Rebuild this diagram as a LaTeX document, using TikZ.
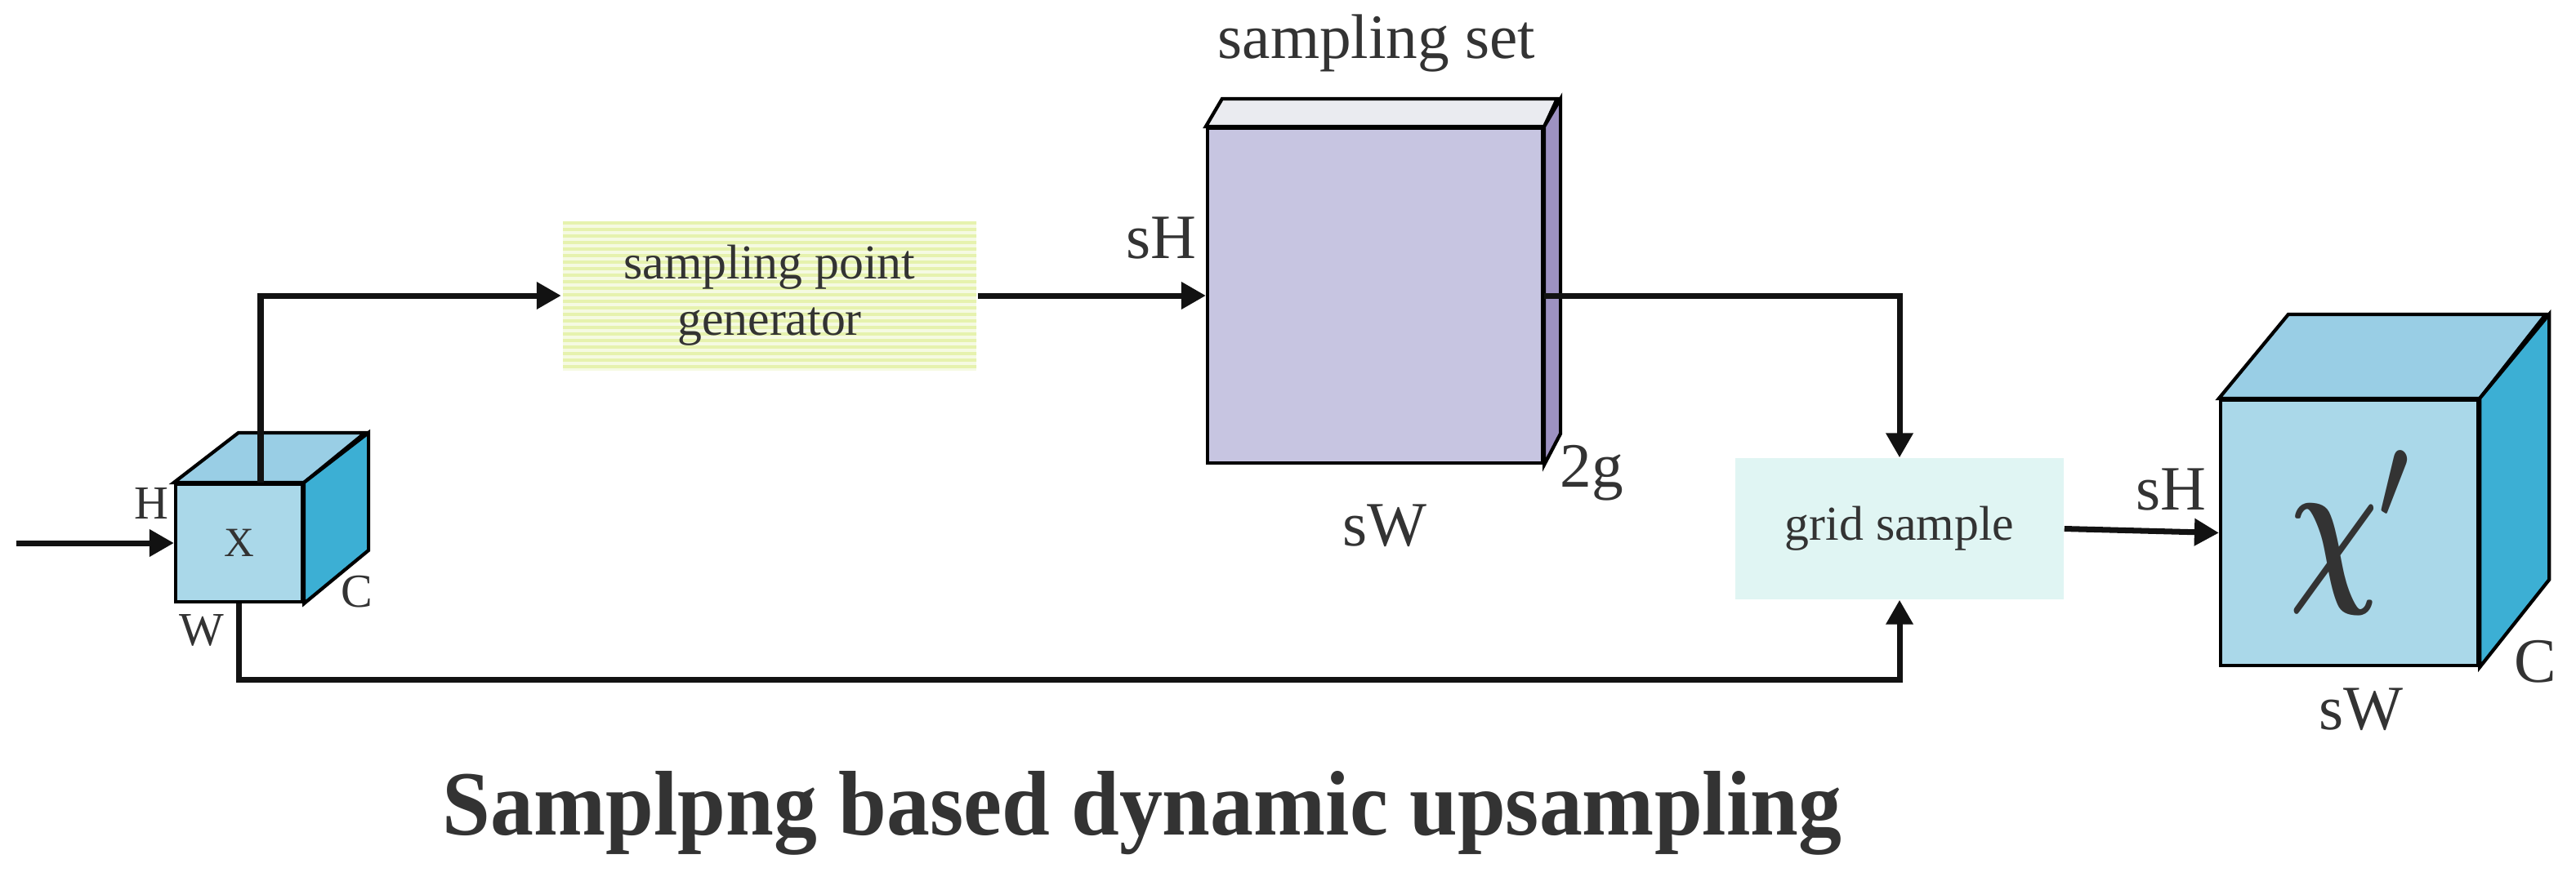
\RequirePackage{fix-cm}
\documentclass[tikz,border=0pt]{standalone}
\usepackage{fontspec}
\setmainfont{Liberation Serif}
\usepackage{tikz}
\usetikzlibrary{arrows.meta, positioning, patterns.meta}

\definecolor{txt}{HTML}{333333}
\definecolor{cubefront}{HTML}{AAD8E9}
\definecolor{cubetop}{HTML}{99CEE5}
\definecolor{cubeside}{HTML}{3CAFD4}
\definecolor{setfront}{HTML}{C7C5E1}
\definecolor{settop}{HTML}{EAEBF0}
\definecolor{setside}{HTML}{9D91C2}
\definecolor{gridfill}{HTML}{E0F5F3}
\definecolor{stripe}{HTML}{E6F2AE}
\definecolor{stripebg}{HTML}{F5FAE2}

\begin{document}
\begin{tikzpicture}[
    face/.style={rectangle, draw=black, line width=1.2pt, inner sep=0pt, text=txt},
    edge/.style={draw=black, line width=1.2pt},
    block/.style={rectangle, inner sep=0pt, align=center, text=txt, font=\fontsize{17}{19.7}\selectfont},
    lbl/.style={anchor=base, inner sep=0pt, text=txt, font=\fontsize{22}{26}\selectfont},
    smalllbl/.style={anchor=base, inner sep=0pt, text=txt, font=\fontsize{16.5}{20}\selectfont},
    arrow/.style={-{Triangle[length=0.3cm, width=0.32cm]}, line width=2pt, black!93}
  ]
  \useasboundingbox (0,0) rectangle (31.53,-10.73);

  % input feature X
  \node[face, fill=cubefront, minimum width=1.55cm, minimum height=1.44cm, font=\fontsize{14.5}{17}\selectfont] (x) at (2.925,-6.65) {X};
  \draw[edge, fill=cubetop] (x.north west) -- ++(0.79,0.61) -- ++(1.55,0) -- (x.north east) -- cycle;
  \draw[edge, fill=cubeside] (x.north east) -- ++(0.79,0.61) -- ++(0,-1.44) -- (x.south east) -- cycle;
  \node[smalllbl] (xh) at (1.85,-6.35) {H};
  \node[smalllbl] (xw) at (2.47,-7.90) {W};
  \node[smalllbl] (xc) at (4.37,-7.43) {C};
  \coordinate (in) at (0.20,-6.65);

  % sampling point generator
  \node[block, minimum width=5.06cm, minimum height=1.83cm, preaction={fill=stripebg},
        pattern={Lines[angle=0, distance=0.08cm, line width=0.045cm]}, pattern color=stripe] (gen) at (9.42,-3.62) {sampling point\\generator};

  % sampling set
  \node[face, fill=setfront, minimum width=4.10cm, minimum height=4.10cm] (set) at (16.83,-3.62) {};
  \draw[edge, fill=settop] (set.north west) -- ++(0.20,0.34) -- ++(4.10,0) -- (set.north east) -- cycle;
  \draw[edge, fill=setside] (set.north east) -- ++(0.20,0.34) -- ++(0,-4.10) -- (set.south east) -- cycle;
  \node[lbl] (setname) at (16.85,-0.71) {sampling set};
  \node[lbl] (seth) at (14.21,-3.16) {sH};
  \node[lbl] (setw) at (16.95,-6.68) {sW};
  \node[lbl] (setg) at (19.48,-5.96) {2g};

  % grid sample
  \node[block, fill=gridfill, minimum width=4.02cm, minimum height=1.73cm] (grid) at (23.25,-6.475) {grid sample};

  % output feature
  \node[face, fill=cubefront, minimum width=3.15cm, minimum height=3.25cm] (out) at (28.755,-6.525) {\scalebox{0.72}[1]{\fontsize{60}{60}\selectfont\boldmath$\chi'$}};
  \draw[edge, fill=cubetop] (out.north west) -- ++(0.85,1.03) -- ++(3.15,0) -- (out.north east) -- cycle;
  \draw[edge, fill=cubeside] (out.north east) -- ++(0.85,1.03) -- ++(0,-3.25) -- (out.south east) -- cycle;
  \node[lbl] (outh) at (26.57,-6.24) {sH};
  \node[lbl] (outw) at (28.90,-8.93) {sW};
  \node[lbl] (outc) at (31.03,-8.35) {C};

  % connections
  \draw[arrow] (in) -- (x.west);
  \draw[arrow] ([xshift=0.265cm]x.north) |- (gen.west);
  \draw[arrow] (gen.east) -- (set.west);
  \draw[arrow] (set.east) -| (grid.north);
  \draw[arrow] (x.south) -- ++(0,-0.93) -| (grid.south);
  \draw[arrow] (grid.east) -- (out.west);

  \node[anchor=base, inner sep=0pt, text=txt, font=\fontsize{32}{38}\selectfont\bfseries] (title) at (13.98,-10.22) {\scalebox{0.94}[1]{Samplpng based dynamic upsampling}};
\end{tikzpicture}
\end{document}
